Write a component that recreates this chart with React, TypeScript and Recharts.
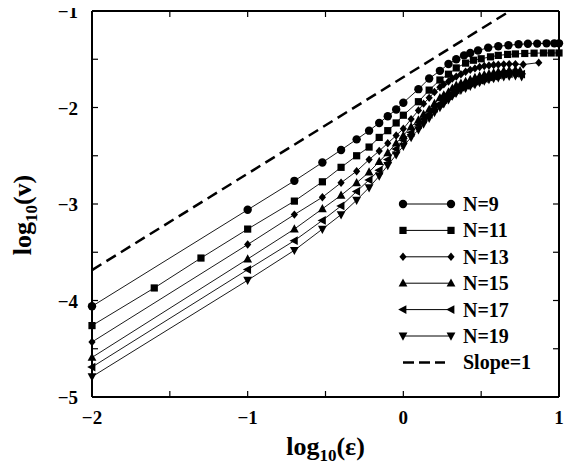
import React from 'react';
import { LineChart, Line, XAxis, YAxis, Legend } from 'recharts';

// log10(eps) / log10(v)
const N9_X = [-2, -1, -0.7, -0.52, -0.4, -0.3, -0.22, -0.155, -0.1, -0.046, 0, 0.097, 0.166, 0.235, 0.29, 0.34, 0.39, 0.43, 0.48, 0.545, 0.61, 0.675, 0.74, 0.8, 0.86, 0.92, 0.97, 1.0];
const N9_Y = [-4.06, -3.06, -2.76, -2.57, -2.44, -2.33, -2.24, -2.16, -2.09, -2.02, -1.95, -1.81, -1.7, -1.62, -1.55, -1.5, -1.46, -1.435, -1.41, -1.38, -1.365, -1.355, -1.345, -1.34, -1.338, -1.335, -1.335, -1.335];

const N11_X = [-2, -1.6, -1.3, -1, -0.7, -0.52, -0.4, -0.3, -0.22, -0.155, -0.1, -0.046, 0, 0.097, 0.166, 0.235, 0.29, 0.34, 0.4, 0.45, 0.5, 0.56, 0.61, 0.67, 0.72, 0.78, 0.84, 0.9, 0.95, 1.0];
const N11_Y = [-4.26, -3.87, -3.56, -3.26, -2.97, -2.77, -2.62, -2.5, -2.41, -2.31, -2.24, -2.16, -2.08, -1.94, -1.82, -1.715, -1.655, -1.59, -1.54, -1.51, -1.495, -1.475, -1.46, -1.45, -1.445, -1.44, -1.437, -1.435, -1.435, -1.435];

const N13_X = [-2, -1, -0.7, -0.52, -0.4, -0.3, -0.22, -0.155, -0.1, -0.046, 0, 0.05, 0.097, 0.13, 0.166, 0.2, 0.235, 0.26, 0.29, 0.315, 0.34, 0.37, 0.4, 0.43, 0.46, 0.49, 0.52, 0.55, 0.58, 0.61, 0.645, 0.68, 0.72, 0.77, 0.87];
const N13_Y = [-4.43, -3.42, -3.11, -2.93, -2.78, -2.66, -2.54, -2.45, -2.37, -2.29, -2.22, -2.12, -2.03, -1.96, -1.9, -1.84, -1.79, -1.76, -1.73, -1.7, -1.68, -1.655, -1.63, -1.61, -1.595, -1.58, -1.57, -1.565, -1.56, -1.556, -1.553, -1.55, -1.55, -1.555, -1.535];

const N15_X = [-2, -1, -0.7, -0.52, -0.4, -0.3, -0.22, -0.155, -0.1, -0.046, 0, 0.05, 0.097, 0.13, 0.166, 0.2, 0.235, 0.26, 0.29, 0.315, 0.34, 0.37, 0.4, 0.43, 0.46, 0.49, 0.52, 0.55, 0.58, 0.61, 0.645, 0.68, 0.72, 0.75];
const N15_Y = [-4.59, -3.57, -3.26, -3.05, -2.91, -2.78, -2.67, -2.56, -2.47, -2.37, -2.29, -2.2, -2.13, -2.07, -2.02, -1.96, -1.9, -1.87, -1.84, -1.8, -1.77, -1.75, -1.73, -1.71, -1.69, -1.675, -1.66, -1.65, -1.64, -1.63, -1.62, -1.615, -1.61, -1.62];

const N17_X = [-2, -1, -0.7, -0.52, -0.4, -0.3, -0.22, -0.155, -0.1, -0.046, 0, 0.05, 0.097, 0.13, 0.166, 0.2, 0.235, 0.26, 0.29, 0.315, 0.34, 0.37, 0.4, 0.43, 0.46, 0.49, 0.52, 0.55, 0.58, 0.61, 0.645, 0.68, 0.72, 0.76];
const N17_Y = [-4.69, -3.68, -3.38, -3.17, -3.02, -2.87, -2.75, -2.65, -2.54, -2.43, -2.34, -2.26, -2.18, -2.12, -2.07, -2.01, -1.96, -1.92, -1.88, -1.85, -1.82, -1.79, -1.77, -1.75, -1.73, -1.715, -1.7, -1.685, -1.675, -1.665, -1.655, -1.65, -1.645, -1.655];

const N19_X = [-2, -1, -0.7, -0.52, -0.4, -0.3, -0.22, -0.155, -0.1, -0.046, 0, 0.05, 0.097, 0.13, 0.166, 0.2, 0.235, 0.26, 0.29, 0.315, 0.34, 0.37, 0.4, 0.43, 0.46, 0.49, 0.52, 0.55, 0.58, 0.61, 0.645, 0.68, 0.72, 0.76];
const N19_Y = [-4.79, -3.79, -3.48, -3.26, -3.11, -2.96, -2.83, -2.71, -2.6, -2.49, -2.4, -2.31, -2.23, -2.17, -2.11, -2.05, -2.0, -1.96, -1.92, -1.88, -1.85, -1.82, -1.8, -1.78, -1.76, -1.74, -1.725, -1.71, -1.7, -1.69, -1.68, -1.675, -1.67, -1.68];

const SLOPE_X = [-2, 0.685];
const SLOPE_Y = [-3.685, -1];

const X_TICKS = [-2, -1.5, -1, -0.5, 0, 0.5, 1];
const Y_TICKS = [-5, -4.5, -4, -3.5, -3, -2.5, -2, -1.5, -1];

const SERIES = [
  { name: 'N=9', xs: N9_X, ys: N9_Y, shape: 'circle' },
  { name: 'N=11', xs: N11_X, ys: N11_Y, shape: 'square' },
  { name: 'N=13', xs: N13_X, ys: N13_Y, shape: 'diamond' },
  { name: 'N=15', xs: N15_X, ys: N15_Y, shape: 'up' },
  { name: 'N=17', xs: N17_X, ys: N17_Y, shape: 'left' },
  { name: 'N=19', xs: N19_X, ys: N19_Y, shape: 'down' },
];
const SLOPE_NAME = 'Slope=1';

const FONT = '"Liberation Serif", "Times New Roman", serif';

const W = 574;
const H = 466;
const M_LEFT = 92;
const M_RIGHT = 15;
const M_TOP = 11;
const M_BOTTOM = 69;
const PLOT_TOP = M_TOP;
const PLOT_RIGHT = W - M_RIGHT;

const toRows = (xs: number[], ys: number[]) => xs.map((x, i) => ({ x, y: ys[i] }));

const fmt = (v: number) => (v < 0 ? `\u2212${Math.abs(v)}` : `${v}`);

const Marker = ({ shape, cx, cy }: { shape: string; cx: number; cy: number }) => {
  switch (shape) {
    case 'circle':
      return <circle cx={cx} cy={cy} r={4.2} fill="#000" />;
    case 'square':
      return <rect x={cx - 3.6} y={cy - 3.6} width={7.2} height={7.2} fill="#000" />;
    case 'diamond':
      return <polygon points={`${cx},${cy - 4.2} ${cx + 3.6},${cy} ${cx},${cy + 4.2} ${cx - 3.6},${cy}`} fill="#000" />;
    case 'up':
      return <polygon points={`${cx},${cy - 4.8} ${cx + 4.4},${cy + 3.4} ${cx - 4.4},${cy + 3.4}`} fill="#000" />;
    case 'left':
      return <polygon points={`${cx - 4.8},${cy} ${cx + 3.4},${cy - 4.4} ${cx + 3.4},${cy + 4.4}`} fill="#000" />;
    case 'down':
      return <polygon points={`${cx},${cy + 4.8} ${cx + 4.4},${cy - 3.4} ${cx - 4.4},${cy - 3.4}`} fill="#000" />;
    default:
      return null;
  }
};

// inward ticks on both frame sides, labels only on integers
const BottomTick = (props: any) => {
  const { x, y, payload } = props;
  const v = payload.value;
  return (
    <g>
      <line x1={x} x2={x} y1={y} y2={y - 6} stroke="#000" strokeWidth={1.2} />
      <line x1={x} x2={x} y1={PLOT_TOP} y2={PLOT_TOP + 6} stroke="#000" strokeWidth={1.2} />
      {Number.isInteger(v) && (
        <text x={x} y={y + 27} textAnchor="middle" fontFamily={FONT} fontWeight="bold" fontSize={19} fill="#000">
          {fmt(v)}
        </text>
      )}
    </g>
  );
};

const LeftTick = (props: any) => {
  const { x, y, payload } = props;
  const v = payload.value;
  return (
    <g>
      <line x1={x} x2={x + 6} y1={y} y2={y} stroke="#000" strokeWidth={1.2} />
      <line x1={PLOT_RIGHT} x2={PLOT_RIGHT - 6} y1={y} y2={y} stroke="#000" strokeWidth={1.2} />
      {Number.isInteger(v) && (
        <text x={x - 14} y={y + 7} textAnchor="end" fontFamily={FONT} fontWeight="bold" fontSize={19} fill="#000">
          {fmt(v)}
        </text>
      )}
    </g>
  );
};

const XLabel = (props: any) => {
  const vb = props.viewBox;
  return (
    <text x={vb.x + vb.width / 2} y={vb.y + 58} textAnchor="middle" fontFamily={FONT} fontWeight="bold" fontSize={26} fill="#000">
      log<tspan fontSize={17} dy={6}>10</tspan>
      <tspan dy={-6}>(ε)</tspan>
    </text>
  );
};

const YLabel = (props: any) => {
  const vb = props.viewBox;
  const cx = 31;
  const cy = vb.y + vb.height / 2 + 11;
  return (
    <text
      x={cx}
      y={cy}
      transform={`rotate(-90 ${cx} ${cy})`}
      textAnchor="middle"
      fontFamily={FONT}
      fontWeight="bold"
      fontSize={26}
      fill="#000"
    >
      log<tspan fontSize={17} dy={6}>10</tspan>
      <tspan dy={-6}>(v)</tspan>
    </text>
  );
};

const LegendBox = () => {
  const rowGap = 26.4;
  return (
    <svg width={180} height={190}>
      {SERIES.map((s, i) => {
        const y = 14 + i * rowGap;
        return (
          <g key={s.name}>
            <line x1={10} x2={58} y1={y} y2={y} stroke="#000" strokeWidth={1} />
            <Marker shape={s.shape} cx={10} cy={y} />
            <Marker shape={s.shape} cx={58} cy={y} />
            <text x={70} y={y} dy="0.35em" fontFamily={FONT} fontWeight="bold" fontSize={20} fill="#000">
              {s.name}
            </text>
          </g>
        );
      })}
      <line x1={10} x2={52} y1={14 + 6 * rowGap} y2={14 + 6 * rowGap} stroke="#000" strokeWidth={2.5} strokeDasharray="11 5" />
      <text x={70} y={14 + 6 * rowGap} dy="0.35em" fontFamily={FONT} fontWeight="bold" fontSize={20} fill="#000">
        {SLOPE_NAME}
      </text>
    </svg>
  );
};

export default function App() {
  return (
    <div style={{ width: W, height: H, margin: '-8px 0 0 -8px' }}>
      <LineChart width={W} height={H} margin={{ top: 0, right: 0, bottom: 0, left: 0 }}>
        <XAxis
          type="number"
          dataKey="x"
          domain={[-2, 1]}
          ticks={X_TICKS}
          interval={0}
          height={M_BOTTOM}
          tickSize={0}
          tickMargin={0}
          tickLine={false}
          axisLine={{ stroke: '#000', strokeWidth: 2 }}
          tick={<BottomTick />}
          label={<XLabel />}
        />
        <XAxis
          xAxisId="top"
          orientation="top"
          type="number"
          domain={[-2, 1]}
          height={M_TOP}
          tickLine={false}
          axisLine={{ stroke: '#000', strokeWidth: 2 }}
          tick={false}
        />
        <YAxis
          type="number"
          dataKey="y"
          domain={[-5, -1]}
          ticks={Y_TICKS}
          interval={0}
          width={M_LEFT}
          tickSize={0}
          tickMargin={0}
          tickLine={false}
          axisLine={{ stroke: '#000', strokeWidth: 2 }}
          tick={<LeftTick />}
          label={<YLabel />}
        />
        <YAxis
          yAxisId="right"
          orientation="right"
          type="number"
          domain={[-5, -1]}
          width={M_RIGHT}
          tickLine={false}
          axisLine={{ stroke: '#000', strokeWidth: 2 }}
          tick={false}
        />
        <Legend
          layout="vertical"
          align="center"
          verticalAlign="middle"
          content={<LegendBox />}
          wrapperStyle={{ left: 393, top: 190, width: 180, height: 190 }}
        />
        <Line
          data={toRows(SLOPE_X, SLOPE_Y)}
          dataKey="y"
          name={SLOPE_NAME}
          type="linear"
          stroke="#000"
          strokeWidth={2.5}
          strokeDasharray="11 6"
          dot={false}
          activeDot={false}
          isAnimationActive={false}
        />
        {SERIES.map((s) => (
          <Line
            key={s.name}
            data={toRows(s.xs, s.ys)}
            dataKey="y"
            name={s.name}
            type="linear"
            stroke="#000"
            strokeWidth={0.9}
            dot={(p: any) => <Marker key={`${s.name}-${p.index}`} shape={s.shape} cx={p.cx} cy={p.cy} />}
            activeDot={false}
            isAnimationActive={false}
          />
        ))}
      </LineChart>
    </div>
  );
}
